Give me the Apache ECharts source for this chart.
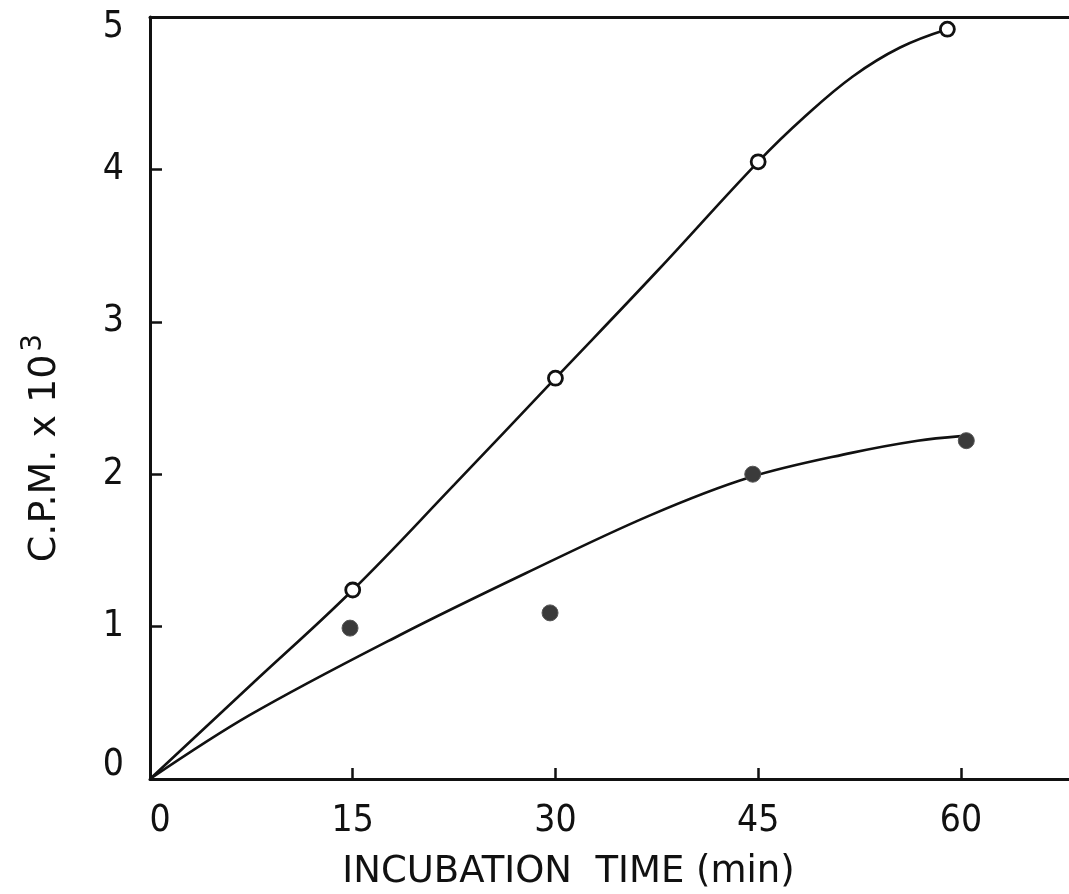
<!DOCTYPE html>
<html>
<head>
<meta charset="utf-8">
<title>Incubation time course</title>
<script src="https://cdn.jsdelivr.net/npm/echarts@6/dist/echarts.min.js"></script>
<style>
  html, body { margin: 0; padding: 0; background: #ffffff; }
  #chart { width: 1069px; height: 894px; }
</style>
</head>
<body>
<div id="chart"></div>
<script>
// Incubation time (min) and counts (C.P.M. x 10^3)
const xTicks = [0, 15, 30, 45, 60];
const yTicks = [0, 1, 2, 3, 4, 5];

// Open circles: measured points
const openTime = [15, 30, 45, 59];
const openCpm = [1.24, 2.63, 4.05, 4.92];

// Filled circles: measured points
const filledTime = [14.8, 29.6, 44.6, 60.4];
const filledCpm = [0.99, 1.09, 2.0, 2.22];

// Smooth curve through the open circles, starting at the origin
const upperCurveTime = [0, 7.5, 15, 22.5, 30, 37.5, 45, 48.5, 52, 55.5, 59];
const upperCurveCpm = [0, 0.62, 1.24, 1.93, 2.63, 3.33, 4.05, 4.35, 4.61, 4.8, 4.92];

// Fitted curve for the filled circles
const lowerCurveTime = [0, 7.4, 18.5, 27.8, 37, 44.4, 51.9, 56.8, 60];
const lowerCurveCpm = [0, 0.42, 0.945, 1.35, 1.73, 1.98, 2.14, 2.22, 2.25];

const zip = (xs, ys) => xs.map((x, i) => [x, ys[i]]);

const FONT = '"DejaVu Sans Condensed", "DejaVu Sans", sans-serif';
const NAME_FONT = '"DejaVu Sans", sans-serif';
const INK = '#111111';

const chart = echarts.init(document.getElementById('chart'), null, { renderer: 'canvas' });

chart.setOption({
  backgroundColor: '#ffffff',
  animation: false,
  grid: { left: 150, right: 0, top: 17, bottom: 115, outerBoundsMode: 'none', containLabel: false },
  xAxis: [
    {
      type: 'value',
      min: 0,
      max: 68,
      interval: 15,
      position: 'bottom',
      name: 'INCUBATION  TIME (min)',
      nameLocation: 'middle',
      nameGap: 75,
      nameTextStyle: {
        fontFamily: NAME_FONT, fontSize: 37, color: INK, padding: [0, 82, 0, 0]
      },
      axisLine: { show: true, onZero: false, lineStyle: { color: INK, width: 3 } },
      axisTick: { show: true, inside: true, length: 11, customValues: [15, 30, 45, 60], lineStyle: { color: INK, width: 2.5 } },
      axisLabel: {
        show: true,
        margin: 24,
        fontFamily: FONT, fontSize: 37, color: INK,
        customValues: xTicks,
        formatter: v => (v === 0 ? '{z|0}' : String(v)),
        rich: { z: { fontFamily: FONT, fontSize: 37, color: INK, padding: [0, 0, 0, 20] } }
      },
      splitLine: { show: false }
    },
    {
      // Top frame line
      type: 'value',
      min: 0,
      max: 68,
      position: 'top',
      axisLine: { show: true, onZero: false, lineStyle: { color: INK, width: 3 } },
      axisTick: { show: false },
      axisLabel: { show: false },
      splitLine: { show: false }
    }
  ],
  yAxis: {
    type: 'value',
    min: 0,
    max: 5,
    interval: 1,
    name: '{a|C.P.M. x 10}{s|3}',
    nameLocation: 'middle',
    nameGap: 80,
    nameRotate: 90,
    nameTextStyle: {
      padding: [0, 100, 0, 0],
      rich: {
        a: { fontFamily: NAME_FONT, fontSize: 38, color: INK },
        s: { fontFamily: NAME_FONT, fontSize: 28, color: INK, padding: [0, 0, 22, 3] }
      }
    },
    axisLine: { show: true, onZero: false, lineStyle: { color: INK, width: 3 } },
    axisTick: { show: true, inside: true, length: 12, customValues: [1, 2, 3, 4], lineStyle: { color: INK, width: 2.5 } },
    axisLabel: {
      show: true,
      margin: 26,
      fontFamily: FONT, fontSize: 37, color: INK,
      customValues: yTicks,
      formatter: v => (v === 0 ? '{z|0}' : v === 5 ? '{t|5}' : String(v)),
      rich: {
        z: { fontFamily: FONT, fontSize: 37, color: INK, padding: [0, 0, 28, 0] },
        t: { fontFamily: FONT, fontSize: 37, color: INK, padding: [20, 0, 0, 0] }
      }
    },
    splitLine: { show: false }
  },
  series: [
    {
      name: 'upper curve',
      type: 'line',
      smooth: 0.4,
      symbol: 'none',
      data: zip(upperCurveTime, upperCurveCpm),
      lineStyle: { color: INK, width: 2.6 },
      z: 2
    },
    {
      name: 'lower curve',
      type: 'line',
      smooth: 0.35,
      symbol: 'none',
      data: zip(lowerCurveTime, lowerCurveCpm),
      lineStyle: { color: INK, width: 2.6 },
      z: 2
    },
    {
      name: 'open',
      type: 'scatter',
      symbol: 'circle',
      symbolSize: 14,
      data: zip(openTime, openCpm),
      itemStyle: { color: '#ffffff', borderColor: INK, borderWidth: 2.8, opacity: 1 },
      z: 3
    },
    {
      name: 'filled',
      type: 'scatter',
      symbol: 'circle',
      symbolSize: 16,
      data: zip(filledTime, filledCpm),
      itemStyle: { color: '#3a3a3a', borderColor: '#555555', borderWidth: 1, opacity: 1 },
      z: 3
    }
  ]
});
</script>
</body>
</html>
